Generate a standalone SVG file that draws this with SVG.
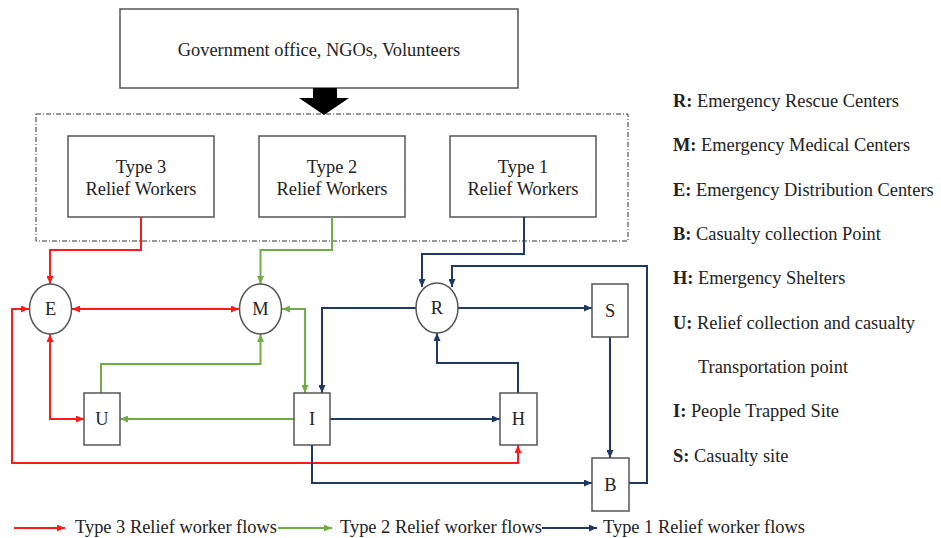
<svg xmlns="http://www.w3.org/2000/svg" width="941" height="538" viewBox="0 0 941 538">
<style>
text{font-family:"Liberation Serif","Times New Roman",serif;font-size:18.4px;fill:#222}
.c{text-anchor:middle}
.box{fill:#fff;stroke:#555;stroke-width:1.5}
.r{fill:none;stroke:#ff1a1a;stroke-width:2}
.g{fill:none;stroke:#70ad47;stroke-width:2}
.b{fill:none;stroke:#1f3864;stroke-width:2}
</style>
<defs>
<marker id="ar" viewBox="0 0 8 7" refX="8" refY="3.5" markerWidth="8" markerHeight="7" markerUnits="userSpaceOnUse" orient="auto-start-reverse"><path d="M0,0L8,3.5L0,7z" fill="#ff1a1a"/></marker>
<marker id="ag" viewBox="0 0 8 7" refX="8" refY="3.5" markerWidth="8" markerHeight="7" markerUnits="userSpaceOnUse" orient="auto-start-reverse"><path d="M0,0L8,3.5L0,7z" fill="#70ad47"/></marker>
<marker id="ab" viewBox="0 0 8 7" refX="8" refY="3.5" markerWidth="8" markerHeight="7" markerUnits="userSpaceOnUse" orient="auto-start-reverse"><path d="M0,0L8,3.5L0,7z" fill="#1f3864"/></marker>
</defs>
<rect width="941" height="538" fill="#fff"/>
<g id="gov">
<rect class="box" x="120" y="9" width="398" height="79"/>
<text class="c" x="319" y="56">Government office, NGOs, Volunteers</text>
</g>
<polygon points="313,88 337,88 337,98 349,98 324,115 299,98 313,98" fill="#000"/>
<g id="group">
<rect x="36" y="114" width="592" height="127" fill="none" stroke="#333" stroke-width="1" stroke-dasharray="5,2,1,2"/>
</g>
<g id="type3"><rect class="box" x="68" y="136" width="146" height="81"/><text class="c" x="141" y="173">Type 3</text><text class="c" x="141" y="195">Relief Workers</text></g>
<g id="type2"><rect class="box" x="259" y="136" width="146" height="81"/><text class="c" x="332" y="173">Type 2</text><text class="c" x="332" y="195">Relief Workers</text></g>
<g id="type1"><rect class="box" x="450" y="136" width="146" height="81"/><text class="c" x="523" y="173">Type 1</text><text class="c" x="523" y="195">Relief Workers</text></g>
<g id="connectors">
<path class="r" d="M141,217V250H50V284" marker-end="url(#ar)"/>
<path class="r" d="M72,309H239" marker-start="url(#ar)" marker-end="url(#ar)"/>
<path class="r" d="M29,309H12V463H518V445" marker-start="url(#ar)" marker-end="url(#ar)"/>
<path class="r" d="M50,334V419H84" marker-start="url(#ar)" marker-end="url(#ar)"/>
<path class="g" d="M332,217V250H260.5V284" marker-end="url(#ag)"/>
<path class="g" d="M101,393V364H260.5V334" marker-end="url(#ag)"/>
<path class="g" d="M294,419H120" marker-end="url(#ag)"/>
<path class="g" d="M282,309H305V393" marker-start="url(#ag)" marker-end="url(#ag)"/>
<path class="b" d="M524,217V254H422V287" marker-end="url(#ab)"/>
<path class="b" d="M629,483H647V266H452V287" marker-end="url(#ab)"/>
<path class="b" d="M416,308H322V393" marker-end="url(#ab)"/>
<path class="b" d="M458,308H592" marker-end="url(#ab)"/>
<path class="b" d="M610,337V458" marker-end="url(#ab)"/>
<path class="b" d="M330,419H500" marker-end="url(#ab)"/>
<path class="b" d="M518,393V363H437V333" marker-end="url(#ab)"/>
<path class="b" d="M312,445V483H592" marker-end="url(#ab)"/>
</g>
<g id="E"><ellipse class="box" cx="50.5" cy="309" rx="21" ry="25"/><text class="c" x="50.5" y="315">E</text></g>
<g id="M"><ellipse class="box" cx="260.5" cy="309" rx="21" ry="25"/><text class="c" x="260.5" y="315">M</text></g>
<g id="R"><ellipse class="box" cx="437" cy="308" rx="21" ry="25"/><text class="c" x="437" y="314">R</text></g>
<g id="U"><rect class="box" x="84" y="393" width="36" height="52"/><text class="c" x="102" y="425">U</text></g>
<g id="I"><rect class="box" x="294" y="393" width="36" height="52"/><text class="c" x="312" y="425">I</text></g>
<g id="H"><rect class="box" x="500" y="393" width="37" height="52"/><text class="c" x="518.5" y="425">H</text></g>
<g id="S"><rect class="box" x="592" y="284" width="36" height="53"/><text class="c" x="610" y="317">S</text></g>
<g id="B"><rect class="box" x="592" y="458" width="37" height="53"/><text class="c" x="610.5" y="491">B</text></g>
<g id="legend-right">
<text x="673" y="107"><tspan font-weight="bold">R:</tspan> Emergency Rescue Centers</text>
<text x="673" y="151"><tspan font-weight="bold">M:</tspan> Emergency Medical Centers</text>
<text x="673" y="196"><tspan font-weight="bold">E:</tspan> Emergency Distribution Centers</text>
<text x="673" y="240"><tspan font-weight="bold">B:</tspan> Casualty collection Point</text>
<text x="673" y="284"><tspan font-weight="bold">H:</tspan> Emergency Shelters</text>
<text x="673" y="329"><tspan font-weight="bold">U:</tspan> Relief collection and casualty</text>
<text x="698" y="373">Transportation point</text>
<text x="673" y="417"><tspan font-weight="bold">I:</tspan> People Trapped Site</text>
<text x="673" y="462"><tspan font-weight="bold">S:</tspan> Casualty site</text>
</g>
<g id="legend-bottom">
<path class="r" d="M14,528H65" marker-end="url(#ar)"/>
<text x="75" y="533">Type 3 Relief worker flows</text>
<path class="g" d="M278,528H332" marker-end="url(#ag)"/>
<text x="340" y="533">Type 2 Relief worker flows</text>
<path class="b" d="M542,528H597" marker-end="url(#ab)"/>
<text x="603" y="533">Type 1 Relief worker flows</text>
</g>
</svg>
